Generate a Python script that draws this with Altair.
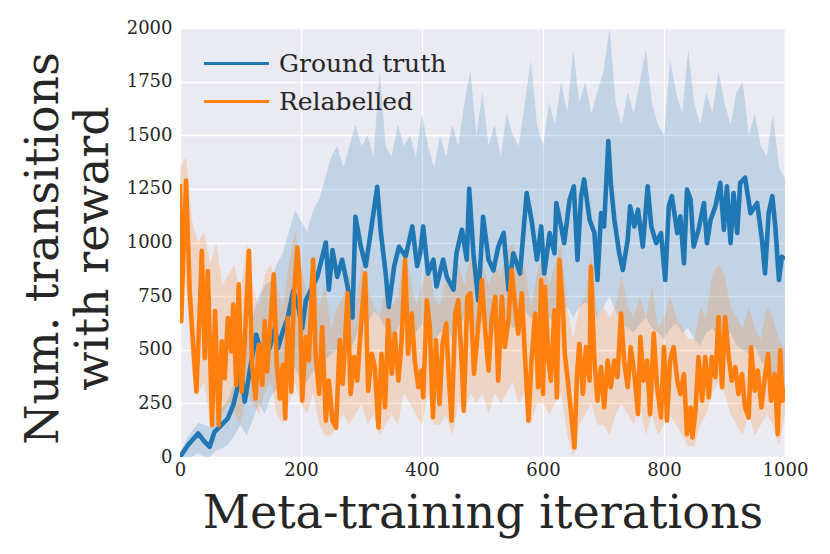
import altair as alt
import pandas as pd

# ---- data ----
x_ticks = [0, 200, 400, 600, 800, 1000]
y_ticks = [0, 250, 500, 750, 1000, 1250, 1500, 1750, 2000]
series_names = ["Ground truth", "Relabelled"]
series_colors = ["#1f77b4", "#ff7f0e"]

gt_iter = [0, 13, 30, 41, 49, 57, 68, 79, 88, 96, 101, 107, 115, 126, 132, 140, 148, 157, 162, 170, 178, 187, 195,
           202, 208, 213, 227, 241, 246, 252, 260, 268, 277, 285, 290, 299, 307, 315, 326, 332, 340, 345, 354, 362, 373, 384, 392,
           397, 402, 410, 419, 424, 435, 441, 452, 457, 466, 474, 478, 485, 493, 501, 510, 518, 526, 535, 543, 551, 562, 573, 581, 590,
           597, 602, 611, 619, 622, 630, 635, 644, 651, 657, 663, 668, 677, 685, 690, 696, 701, 708, 712, 718, 726, 732, 740, 744, 751, 757, 765, 773, 779, 787, 795,
           802, 808, 813, 822, 827, 833, 838, 844, 849, 857, 866, 871, 877, 885, 893, 899, 904, 910, 915, 921, 926, 934, 943, 954, 962, 967, 973, 979, 984, 990, 995, 999]
gt_value = [0, 55, 110, 70, 47, 117, 148, 180, 242, 336, 398, 258, 398, 570, 508, 461, 508, 602, 508, 586, 648, 773, 711,
            600, 730, 760, 840, 1000, 780, 965, 840, 920, 795, 650, 1120, 980, 890, 1045, 1260, 1045, 855, 700, 890, 980, 935, 1075, 890,
            950, 1075, 855, 920, 795, 920, 840, 780, 950, 1060, 920, 1250, 950, 730, 1120, 920, 870, 980, 1045, 780, 950, 855, 1230, 1105, 920,
            1075, 856, 1044, 950, 1184, 1075, 997, 1200, 1262, 919, 1215, 1294, 1106, 1044, 825, 1137, 1075, 1473, 1278, 1106, 950, 872, 1012, 1169, 1075, 1153, 981, 1262, 1075, 997, 1044,
            825, 1169, 1216, 1044, 1122, 903, 1247, 1200, 981, 1059, 1184, 997, 1106, 1169, 1278, 1059, 1262, 997, 1231, 1044, 1278, 1302, 1137, 1184, 1012, 856, 1137, 1216, 1075, 825, 934, 919]

rl_iter = [0, 2, 5, 10, 16, 21, 27, 33, 36, 41, 46, 53, 58, 64, 69, 74, 79, 85, 88, 93, 97, 102, 107, 114, 119, 125, 130, 136, 140, 144, 150, 155, 160, 165, 170, 174, 178, 184, 188, 194,
           197, 202, 208, 213, 220, 224, 230, 235, 241, 246, 252, 258, 264, 269, 277, 282, 288, 293, 299, 306, 311, 317, 322, 328, 333, 339, 344, 350, 355, 361, 366, 372, 377, 383, 388, 394, 399,
           402, 408, 413, 418, 423, 429, 434, 440, 444, 449, 455, 460, 466, 469, 475, 480, 486, 492, 499, 504, 510, 515, 521, 526, 532, 537, 543, 548, 554, 559, 565, 570, 576, 581, 587, 592,
           597, 600, 603, 609, 613, 619, 623, 627, 633, 636, 641, 646, 652, 656, 660, 666, 671, 677, 679, 685, 690, 696, 701, 707, 712, 718, 723, 729, 734, 740, 745, 751, 757, 761, 766, 772, 777, 783, 788, 795, 800,
           805, 810, 816, 822, 827, 833, 838, 844, 847, 852, 857, 863, 868, 874, 879, 885, 890, 896, 901, 907, 912, 918, 923, 929, 934, 940, 944, 950, 955, 961, 966, 972, 977, 983, 988, 992, 996, 999]
rl_value = [1273, 633, 898, 1289, 773, 555, 305, 711, 961, 461, 867, 148, 680, 148, 539, 367, 648, 492, 711, 336, 805, 305, 539, 961, 430, 273, 523, 336, 633, 398, 648, 852, 430, 273, 430, 180, 648, 305, 742, 977,
            856, 262, 559, 450, 919, 481, 294, 606, 169, 356, 169, 137, 544, 341, 763, 294, 466, 356, 606, 856, 309, 481, 419, 137, 481, 231, 638, 388, 575, 356, 528, 919, 481, 669, 450, 325, 403,
            278, 731, 606, 184, 544, 247, 528, 622, 388, 169, 669, 731, 419, 216, 747, 763, 388, 575, 825, 606, 403, 638, 747, 356, 747, 513, 638, 872, 700, 575, 763, 481, 169, 450, 669, 325,
            825, 294, 794, 450, 356, 684, 278, 919, 684, 481, 356, 216, 44, 372, 528, 294, 512, 356, 888, 450, 262, 419, 231, 450, 325, 450, 372, 669, 450, 325, 512, 387, 200, 559, 356, 450, 200, 575, 341, 184, 512,
            169, 450, 512, 356, 294, 387, 106, 231, 91, 216, 466, 262, 466, 278, 466, 372, 653, 325, 653, 466, 356, 419, 294, 387, 231, 184, 512, 309, 403, 231, 356, 481, 262, 387, 106, 497, 262, 325]

band_iter = list(range(0, 1001, 10))
gt_hi = [10, 80, 120, 160, 150, 140, 200, 230, 270, 350,
         450, 550, 650, 750, 800, 820, 900, 950, 1050, 1150,
         1100, 1050, 1150, 1200, 1300, 1400, 1450, 1350, 1450, 1550,
         1450, 1500, 1400, 1800, 1450, 1400, 1550, 1450, 1500, 1400,
         1600, 1450, 1350, 1500, 1400, 1550, 1450, 1650, 1800, 1500,
         1700, 1450, 1550, 1400, 1600, 1500, 1450, 1650, 1850, 1550,
         1450, 1650, 1550, 1750, 1600, 1900, 1650, 1750, 1600, 1700,
         1800, 2000, 1650, 1550, 1700, 1600, 1750, 1900, 1650, 1550,
         1500, 1850, 1700, 1600, 1900, 1650, 1550, 1700, 1600, 1800,
         1650, 1550, 1700, 1750, 1500, 1600, 1450, 1400, 1600, 1350,
         1300]
gt_lo = [0, 0, 0, 20, 0, 0, 30, 40, 60, 100,
         150, 100, 170, 250, 200, 280, 320, 300, 380, 420,
         350, 350, 400, 420, 450, 480, 500, 520, 500, 550,
         650, 620, 680, 650, 600, 550, 600, 650, 620, 580,
         620, 560, 540, 580, 600, 550, 600, 650, 620, 580,
         640, 600, 580, 620, 650, 600, 620, 680, 650, 620,
         600, 650, 620, 680, 700, 650, 700, 720, 680, 650,
         700, 750, 680, 620, 600, 580, 620, 650, 600, 580,
         550, 600, 620, 580, 600, 550, 520, 580, 600, 560,
         540, 580, 520, 500, 480, 520, 450, 420, 380, 350,
         330]
rl_hi = [1350, 1400, 1100, 1000, 1050, 900, 1000, 800, 850, 900,
         750, 1000, 800, 700, 850, 900, 800, 700, 900, 1050,
         900, 750, 950, 700, 800, 600, 700, 750, 850, 700,
         900, 800, 700, 650, 800, 700, 750, 950, 850, 700,
         800, 900, 750, 700, 850, 750, 900, 800, 950, 850,
         900, 800, 900, 850, 950, 1000, 850, 900, 700, 850,
         950, 800, 900, 1000, 700, 550, 700, 750, 950, 650,
         700, 650, 700, 850, 700, 650, 750, 650, 800, 600,
         650, 750, 650, 600, 550, 550, 700, 650, 850, 900,
         850, 700, 650, 600, 700, 600, 550, 700, 650, 550,
         500]
rl_lo = [900, 800, 400, 300, 350, 150, 200, 200, 250, 200,
         150, 300, 250, 200, 300, 350, 200, 150, 250, 350,
         250, 200, 300, 150, 100, 100, 150, 200, 150, 200,
         250, 150, 200, 100, 150, 200, 150, 300, 250, 200,
         150, 300, 150, 150, 200, 100, 250, 200, 300, 250,
         300, 200, 300, 250, 300, 350, 250, 300, 150, 250,
         250, 200, 250, 300, 100, 0, 150, 200, 250, 150,
         150, 100, 200, 250, 200, 150, 250, 100, 200, 100,
         150, 200, 150, 100, 50, 50, 150, 200, 300, 350,
         300, 200, 150, 100, 200, 100, 150, 200, 150, 50,
         200]

# ---- tables ----
lines_df = pd.concat([
    pd.DataFrame({"iter": gt_iter, "value": gt_value, "series": series_names[0]}),
    pd.DataFrame({"iter": rl_iter, "value": rl_value, "series": series_names[1]}),
])
band_df = pd.DataFrame(list(zip(band_iter, gt_lo, gt_hi, rl_lo, rl_hi)),
                       columns=["iter", "gt_lo", "gt_hi", "rl_lo", "rl_hi"])

FONT = "DejaVu Serif"
TXT = "#262626"

x_enc = alt.X("iter:Q",
              scale=alt.Scale(domain=[0, 1000], nice=False, zero=False),
              axis=alt.Axis(values=x_ticks, title="Meta-training iterations", format="d",
                            titleY=70, titleBaseline="alphabetic",
                            labelPadding=4, labelFlush=False, labelOverlap=False))
y_scale = alt.Scale(domain=[0, 2000], nice=False)
y_axis = alt.Axis(values=y_ticks, title=["Num. transitions", "with reward"], format="d",
                  titleAngle=270, titleX=-123, titleY=220, titleAlign="center",
                  titleBaseline="alphabetic", titleLineHeight=50,
                  labelPadding=8, labelOverlap=False)

gt_band = alt.Chart(band_df).mark_area(color=series_colors[0], opacity=0.2, clip=True).encode(
    x=x_enc,
    y=alt.Y("gt_lo:Q", scale=y_scale, axis=y_axis),
    y2="gt_hi:Q",
)
rl_band = alt.Chart(band_df).mark_area(color=series_colors[1], opacity=0.2, clip=True).encode(
    x=x_enc,
    y=alt.Y("rl_lo:Q", scale=y_scale, axis=y_axis),
    y2="rl_hi:Q",
)
lines = alt.Chart(lines_df).mark_line(strokeWidth=4.6, strokeJoin="round", clip=True).encode(
    x=x_enc,
    y=alt.Y("value:Q", scale=y_scale, axis=y_axis),
    color=alt.Color("series:N",
                    scale=alt.Scale(domain=series_names, range=series_colors),
                    legend=alt.Legend(title=None, orient="none", legendX=44, legendY=23,
                                      symbolType="M-3.25,0H3.25", symbolSize=400,
                                      symbolStrokeWidth=3, labelOffset=30, labelLimit=0,
                                      labelFontSize=25, labelFont=FONT, labelColor=TXT,
                                      padding=0, rowPadding=12)),
    order=alt.Order("iter:Q"),
)

chart = alt.layer(gt_band, rl_band, lines).properties(
    width=605, height=429,
    autosize=alt.AutoSizeParams(type="none"),
    padding={"left": 172, "top": 20, "right": 37, "bottom": 89},
    background="white",
).configure_view(
    fill="#EAEAF2", strokeWidth=0
).configure_axis(
    grid=True, gridColor="white", gridWidth=1.3, domain=False, ticks=False,
    labelFont=FONT, labelFontSize=18, labelColor=TXT,
    titleFont=FONT, titleFontSize=46, titleFontWeight="normal", titleColor=TXT,
)

chart.save("out.html", embed_options={"renderer": "svg", "actions": False})
